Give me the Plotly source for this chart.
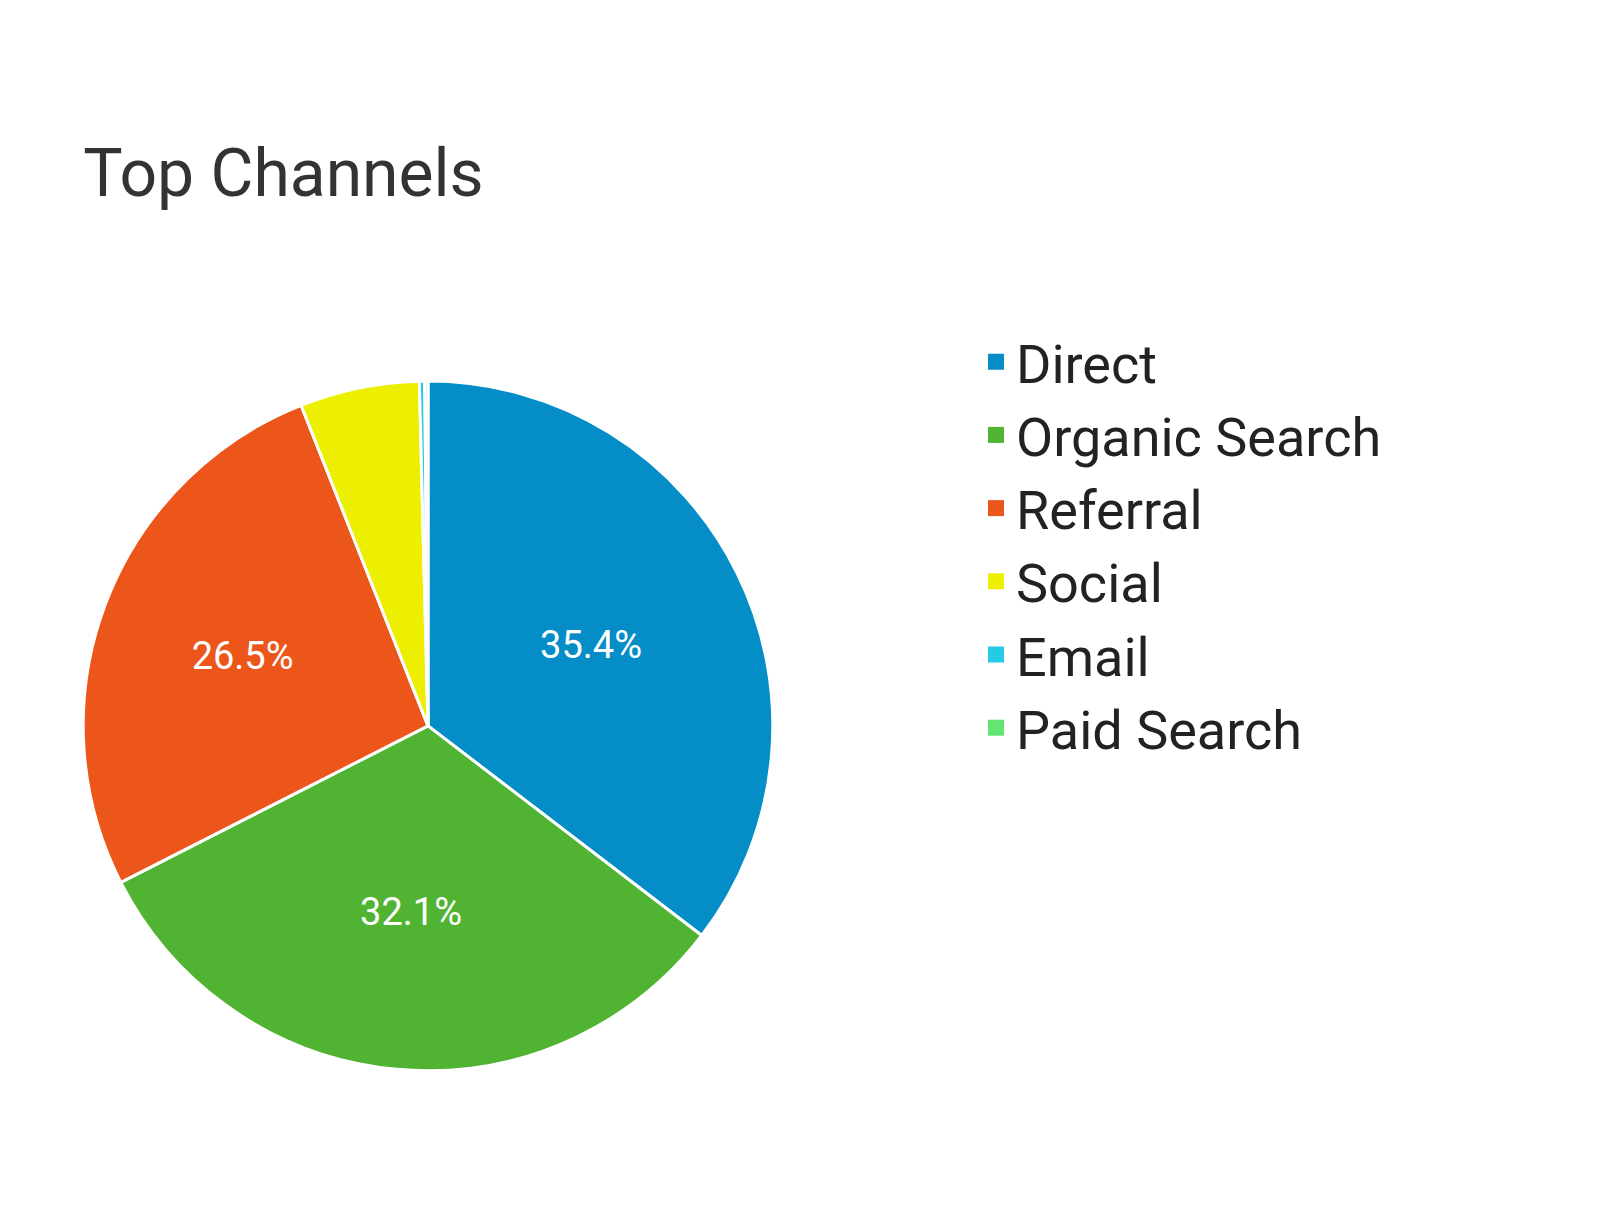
import plotly.graph_objects as go

channels = ["Direct", "Organic Search", "Referral", "Social", "Email", "Paid Search"]
shares = [35.4, 32.1, 26.5, 5.6, 0.25, 0.15]
labels_shown = ["35.4%", "32.1%", "26.5%", "", "", ""]
colors = ["#058DC7", "#50B432", "#ED561B", "#EDEF00", "#24CBE5", "#64E572"]

fig = go.Figure(go.Pie(
    labels=channels, values=shares, text=labels_shown, textinfo="text",
    textposition="inside", insidetextorientation="horizontal",
    sort=False, direction="clockwise", rotation=0,
    marker=dict(colors=colors, line=dict(color="white", width=3)),
    textfont=dict(color="white", size=38, family="Roboto"),
    domain=dict(x=[0.047, 0.478], y=[0.130, 0.697]),
    hoverinfo="label+percent", showlegend=False,
))
# legend entries with square swatches
for name, c in zip(channels, colors):
    fig.add_trace(go.Scatter(x=[None], y=[None], mode="markers", name=name,
                             marker=dict(symbol="square", size=42, color=c)))
fig.update_xaxes(visible=False)
fig.update_yaxes(visible=False)
fig.update_layout(
    width=1600, height=1224, margin=dict(l=0, r=0, t=0, b=0),
    paper_bgcolor="white", plot_bgcolor="white",
    title=dict(text="Top Channels", x=0.047, xanchor="left", y=0.865, yanchor="middle",
               font=dict(size=66, family="Roboto", color="#333333")),
    legend=dict(x=0.605, y=0.745, xanchor="left", yanchor="top",
                font=dict(size=54, family="Roboto", color="#222222"),
                tracegroupgap=0, itemsizing="trace"),
)
fig.write_html("out.html")
